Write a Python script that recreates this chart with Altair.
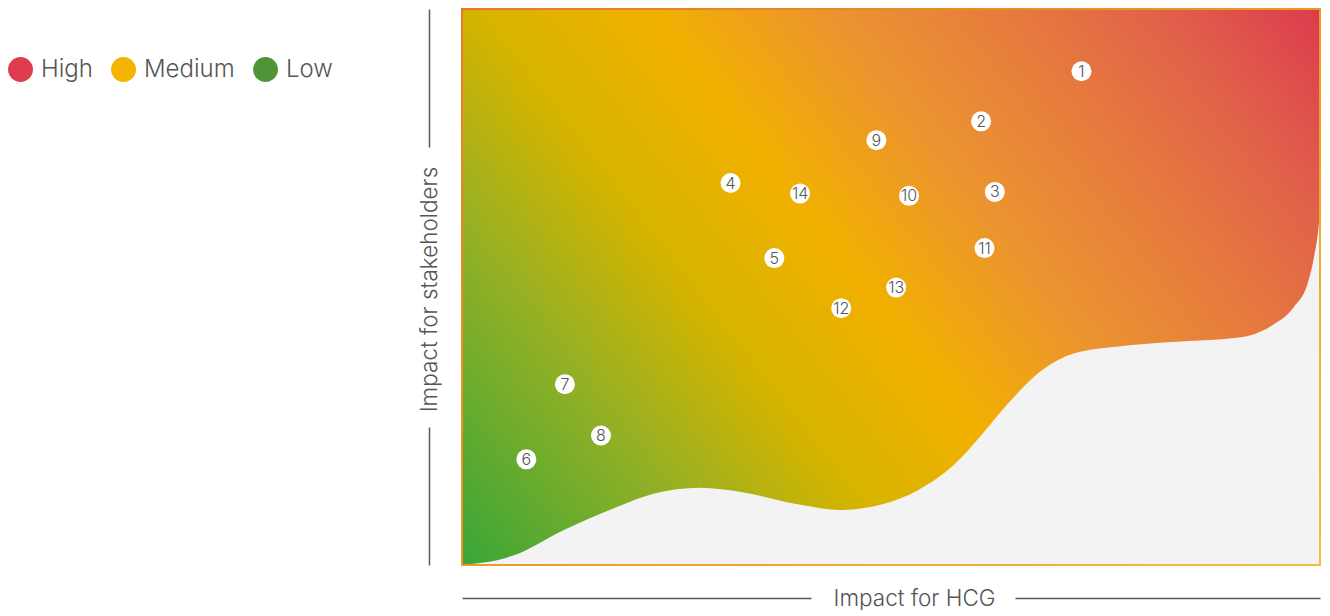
import altair as alt
import pandas as pd

# numbered topics: impact for HCG (x) and for stakeholders (y), 0-100 scale
ids = [1, 2, 3, 4, 5, 6, 7, 8, 9, 10, 11, 12, 13, 14]
hcg = [72.2, 60.5, 62.1, 31.3, 36.4, 7.5, 12.0, 16.2, 48.3, 52.1, 60.9, 44.2, 50.6, 39.4]
stake = [88.8, 79.8, 67.1, 68.7, 55.2, 19.0, 32.5, 23.3, 76.4, 66.4, 57.0, 46.2, 49.9, 66.8]

# outline of the grey (out of scope) region in the lower right
curve_x = [0, 5.8, 12.0, 18.2, 22.3, 27.7, 32.7, 38.8, 44.2, 49.2, 53.2, 57.4, 60.5, 63.5,
           67.4, 71.2, 77.0, 82.8, 90.5, 94.3, 97.0, 98.6, 99.3, 99.9, 100]
curve_y = [0, 1.6, 6.4, 10.5, 12.8, 13.9, 13.1, 11.0, 9.9, 11.0, 13.5, 18.1, 23.3, 28.8,
           34.8, 38.0, 39.4, 40.1, 40.9, 43.0, 46.5, 50.8, 55.4, 62.0, 64.0]

levels = ["High", "Medium", "Low"]
level_colors = ["#df3c50", "#f5b300", "#4f9437"]

points = pd.DataFrame({"id": [str(i) for i in ids], "hcg": hcg, "stake": stake})
curve = pd.DataFrame({"x": curve_x, "y": curve_y})
frame = pd.DataFrame({"x0": [0], "x1": [100], "y0": [0], "y1": [100]})
legend_df = pd.DataFrame({"level": levels})

xs = alt.Scale(domain=[0, 100], nice=False, zero=False)
ys = alt.Scale(domain=[0, 100], nice=False, zero=False)

W, H = 858, 556
FONT = "Inter"
TXT = "#555555"

bg_grad = alt.Gradient(
    gradient="linear",
    x1=-0.096, y1=0.80, x2=1.096, y2=0.20,
    stops=[
        alt.GradientStop(color="#3aa637", offset=0.0),
        alt.GradientStop(color="#93b025", offset=0.2),
        alt.GradientStop(color="#d4b400", offset=0.34),
        alt.GradientStop(color="#f2b000", offset=0.48),
        alt.GradientStop(color="#eb9430", offset=0.62),
        alt.GradientStop(color="#e67a3e", offset=0.76),
        alt.GradientStop(color="#e1604a", offset=0.88),
        alt.GradientStop(color="#dc3c4e", offset=1.0),
    ],
)
border_grad = alt.Gradient(
    gradient="linear", x1=0, y1=0, x2=1, y2=1,
    stops=[
        alt.GradientStop(color="#e8782c", offset=0.0),
        alt.GradientStop(color="#ee9a20", offset=0.5),
        alt.GradientStop(color="#f0c03c", offset=1.0),
    ],
)

x_axis = alt.Axis(
    orient="bottom", offset=33, labels=False, ticks=False, grid=False,
    domainColor="#5a5a5a", domainWidth=1.5, domainDash=[349, 204, 2000],
    title="Impact for HCG", titleX=452, titleY=0, titleBaseline="middle",
    titleAlign="center", titleFont=FONT, titleFontSize=22.5,
    titleFontWeight=300, titleColor=TXT,
)
y_axis = alt.Axis(
    orient="left", offset=33, labels=False, ticks=False, grid=False,
    domainColor="#5a5a5a", domainWidth=1.5, domainDash=[138, 280, 2000],
    title="Impact for stakeholders", titleX=0, titleY=280, titleAngle=-90,
    titleBaseline="middle", titleAlign="center", titleFont=FONT,
    titleFontSize=22.5, titleFontWeight=300, titleColor=TXT,
)

bg = alt.Chart(frame).mark_rect(fill=bg_grad).encode(
    x=alt.X("x0:Q", scale=xs, axis=x_axis),
    x2="x1:Q",
    y=alt.Y("y0:Q", scale=ys, axis=y_axis),
    y2="y1:Q",
)

grey = alt.Chart(curve).mark_area(color="#f3f3f3", interpolate="monotone").encode(
    x=alt.X("x:Q", scale=xs),
    y=alt.Y("y:Q", scale=ys),
    y2=alt.datum(0),
)

border = alt.Chart(frame).mark_rect(filled=False, stroke=border_grad, strokeWidth=2).encode(
    x=alt.X("x0:Q", scale=xs), x2="x1:Q",
    y=alt.Y("y0:Q", scale=ys), y2="y1:Q",
)

dots = alt.Chart(points).mark_circle(color="white", opacity=1, size=400).encode(
    x=alt.X("hcg:Q", scale=xs),
    y=alt.Y("stake:Q", scale=ys),
)

labels = alt.Chart(points).mark_text(font=FONT, fontSize=16, fontWeight=300, color=TXT,
                                     baseline="middle", align="center", dy=0.5).encode(
    x=alt.X("hcg:Q", scale=xs),
    y=alt.Y("stake:Q", scale=ys),
    text="id:N",
)

legend_layer = alt.Chart(legend_df).mark_circle(opacity=0).encode(
    color=alt.Color(
        "level:N",
        scale=alt.Scale(domain=levels, range=level_colors),
        sort=levels,
        legend=alt.Legend(
            orient="none", legendX=-454, legendY=48, direction="horizontal",
            title=None, labelFont=FONT, labelFontSize=24, labelFontWeight=300,
            labelColor=TXT, symbolType="circle", symbolSize=620, symbolOpacity=1,
            symbolStrokeWidth=0, labelOffset=8, columnPadding=18,
        ),
    )
)

chart = alt.layer(bg, grey, border, dots, labels, legend_layer).properties(
    width=W, height=H, padding=0,
).configure_view(stroke=None)

chart.save("out.html", embed_options={"renderer": "svg", "actions": False})
